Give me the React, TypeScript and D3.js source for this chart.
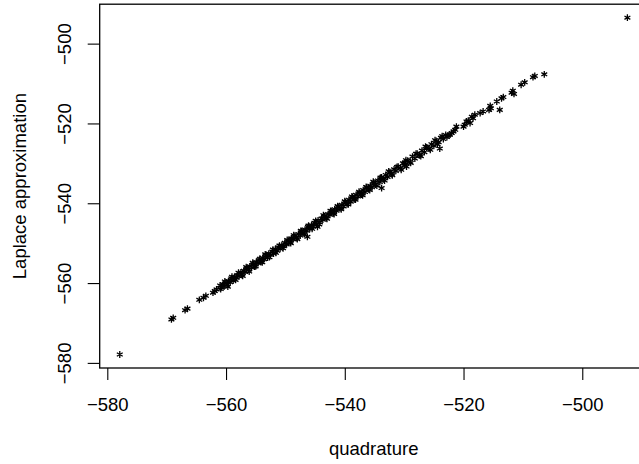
import * as d3 from 'd3';
import React, { useRef, useEffect } from 'react';

// quadrature (x) vs Laplace approximation (y)
const quadrature = [
  -577.9, -569.2, -568.9, -566.9, -566.5, -564.5, -563.8, -563.4, -562.2, -561.9, -561.6,
  -561.0, -560.8, -560.5, -560.3, -560.0, -559.8, -559.6, -559.3, -559.1, -558.8,
  -558.6, -558.3, -558.1, -557.8, -557.5, -557.3, -557.0, -556.8, -556.5, -556.2,
  -556.0, -555.7, -555.4, -555.2, -554.9, -554.6, -554.4, -554.1, -553.8, -553.6,
  -553.3, -553.0, -552.8, -552.5, -552.2, -552.0, -551.7, -551.4, -551.2, -550.9,
  -550.6, -550.3, -550.1, -549.8, -549.5, -549.2, -549.0, -548.7, -548.4, -548.1,
  -547.8, -547.5, -547.3, -547.0, -546.7, -546.4, -546.2, -545.9, -545.6, -545.3,
  -545.1, -544.8, -544.5, -544.2, -543.9, -543.7, -543.4, -543.1, -542.8, -542.5,
  -542.2, -541.9, -541.7, -541.4, -541.1, -540.8, -540.5, -540.2, -539.9, -539.6,
  -539.3, -539.0, -538.7, -538.4, -538.1, -537.8, -537.5, -537.2, -536.9, -536.6,
  -536.3, -536.0, -535.7, -535.4, -535.1, -534.8, -534.4, -534.1, -533.8, -533.5,
  -533.1, -532.8, -532.4, -532.1, -531.7, -531.4, -531.0, -530.6, -530.2, -529.9,
  -529.4, -529.0, -528.6, -528.2, -527.8, -527.4, -527.0, -526.6, -526.2, -525.8,
  -525.4, -525.0, -524.6, -524.2, -523.8, -523.4, -523.0, -522.6,
  -560.9, -560.2, -559.7, -559.0, -558.4, -557.9, -557.2, -556.6, -556.1, -555.5,
  -555.0, -554.3, -553.9, -553.4, -552.7, -552.1, -551.6, -551.0, -550.4, -549.7,
  -549.1, -548.6, -548.0, -547.4, -546.8, -546.1, -545.5, -544.9, -544.3, -543.6,
  -543.0, -542.4, -541.8, -541.2, -540.6, -540.0, -539.4, -538.8, -538.2, -537.6,
  -537.0, -536.4, -535.8, -535.2, -534.6, -534.0, -533.3, -532.6, -532.0, -531.2,
  -530.5, -529.7, -528.9, -528.0, -527.2, -526.4, -525.6, -524.8, -524.4, -523.6,
  -522.8,
  -546.3, -544.6, -533.8, -529.6, -529.9, -524.0, -513.9,
  -522.3, -522.0, -521.7, -521.4, -521.2, -520.0, -519.8, -519.5, -519.2, -518.9,
  -518.6, -518.4, -518.1, -517.2, -516.7, -515.7, -515.5, -515.4, -514.4, -513.6,
  -513.3, -511.9, -511.7, -511.5, -510.3, -509.7, -508.3, -508.0, -506.4, -492.4
];

const laplace = [
  -577.9, -569.1, -568.7, -566.8, -566.4, -564.2, -563.7, -563.2, -562.4, -562.0, -561.6,
  -560.6, -561.1, -560.3, -560.8, -559.9, -560.4, -559.5, -559.8, -558.8, -559.4,
  -558.5, -558.6, -558.0, -558.3, -557.3, -557.8, -556.9, -557.2, -556.3, -556.7,
  -555.8, -556.1, -555.3, -555.9, -554.7, -555.0, -554.2, -554.7, -553.7, -554.0,
  -553.1, -553.6, -552.6, -552.9, -552.1, -552.6, -551.5, -551.9, -551.0, -551.4,
  -550.5, -550.8, -549.9, -550.3, -549.4, -549.8, -548.8, -549.0, -548.2, -548.7,
  -547.7, -548.1, -547.0, -547.5, -546.6, -546.9, -545.9, -546.4, -545.5, -545.8,
  -544.9, -545.2, -544.3, -544.8, -543.8, -544.1, -543.2, -543.7, -542.7, -542.9,
  -542.0, -542.5, -541.5, -541.9, -540.9, -541.3, -540.4, -540.8, -539.7, -540.2,
  -539.1, -539.6, -538.5, -539.0, -537.9, -538.3, -537.4, -537.8, -536.7, -537.2,
  -536.0, -536.5, -535.6, -536.0, -534.8, -535.3, -534.3, -534.7, -533.5, -534.0,
  -532.9, -533.4, -532.2, -532.7, -531.5, -531.9, -530.8, -531.2, -530.0, -530.5,
  -529.3, -529.6, -528.3, -528.8, -527.6, -528.0, -526.8, -527.2, -526.0, -526.3,
  -525.2, -525.6, -524.4, -524.7, -523.6, -523.9, -522.9, -523.0,
  -561.5, -559.6, -560.9, -558.4, -559.2, -557.4, -558.2, -556.0, -557.1, -554.9,
  -555.8, -553.9, -554.8, -552.8, -553.5, -551.6, -552.4, -550.6, -551.3, -549.2,
  -550.0, -548.0, -549.0, -546.9, -547.7, -545.6, -546.4, -544.4, -545.3, -543.0,
  -543.9, -541.9, -542.7, -540.7, -541.5, -539.5, -540.3, -538.3, -539.1, -537.1,
  -538.0, -535.9, -536.7, -534.6, -535.6, -533.6, -534.3, -532.0, -533.0, -530.9,
  -531.6, -529.2, -529.9, -527.6, -528.2, -525.8, -526.6, -524.2, -525.2, -523.2,
  -523.4,
  -548.4, -545.9, -536.2, -530.8, -529.9, -526.3, -516.6,
  -522.8, -522.4, -522.0, -521.6, -520.8, -520.8, -520.3, -519.5, -519.3, -519.9,
  -518.3, -518.7, -517.8, -517.4, -517.0, -516.6, -515.6, -516.2, -514.5, -513.7,
  -513.4, -512.3, -511.8, -512.6, -510.3, -509.7, -508.4, -508.1, -507.7, -493.5
];

const xTicks = [-580, -560, -540, -520, -500];
const yTicks = [-580, -560, -540, -520, -500];

const W = 639;
const H = 464;
const plot = { left: 99.7, right: 647.7, top: 4.2, bottom: 368 };
const font = '"Liberation Sans", Arial, Helvetica, sans-serif';
const fs = 18.5;

function App() {
  const ref = useRef(null);

  useEffect(() => {
    const svg = d3.select(ref.current);
    svg.selectAll('*').remove();

    const x = d3.scaleLinear().domain([-581.28, -488.98]).range([plot.left, plot.right]);
    const y = d3.scaleLinear().domain([-581.28, -490.12]).range([plot.bottom, plot.top]);

    // points (pch = "*")
    const star = d3.symbol(d3.symbolAsterisk, 32)();
    svg.append('g')
      .selectAll('path')
      .data(quadrature.map((q, i) => [q, laplace[i]]))
      .join('path')
      .attr('d', star)
      .attr('transform', d => `translate(${x(d[0])},${y(d[1])})`)
      .attr('stroke', '#000')
      .attr('stroke-width', 1.3)
      .attr('fill', 'none');

    // box
    svg.append('rect')
      .attr('x', plot.left)
      .attr('y', plot.top)
      .attr('width', plot.right - plot.left)
      .attr('height', plot.bottom - plot.top)
      .attr('fill', 'none')
      .attr('stroke', '#000')
      .attr('stroke-width', 1.3);

    // x axis
    const gx = svg.append('g')
      .attr('transform', `translate(0,${plot.bottom})`)
      .call(d3.axisBottom(x).tickValues(xTicks).tickSize(12).tickSizeOuter(0).tickFormat(d3.format('')));
    gx.select('.domain').remove();
    gx.selectAll('line').attr('stroke', '#000').attr('stroke-width', 1.1);
    gx.selectAll('text')
      .attr('y', 43)
      .attr('dy', null)
      .attr('fill', '#000')
      .style('font-family', font)
      .style('font-size', fs + 'px');

    // y axis
    const gy = svg.append('g')
      .attr('transform', `translate(${plot.left},0)`)
      .call(d3.axisLeft(y).tickValues(yTicks).tickSize(12).tickSizeOuter(0).tickFormat(d3.format('')));
    gy.select('.domain').remove();
    gy.selectAll('line').attr('stroke', '#000').attr('stroke-width', 1.1);
    gy.selectAll('text')
      .attr('x', null)
      .attr('dy', null)
      .attr('transform', 'translate(-29,0) rotate(-90)')
      .attr('text-anchor', 'middle')
      .attr('fill', '#000')
      .style('font-family', font)
      .style('font-size', fs + 'px');

    // axis titles
    svg.append('text')
      .attr('x', (plot.left + plot.right) / 2)
      .attr('y', 455)
      .attr('text-anchor', 'middle')
      .style('font-family', font)
      .style('font-size', fs + 'px')
      .text('quadrature');

    svg.append('text')
      .attr('transform', `translate(26,${(plot.top + plot.bottom) / 2}) rotate(-90)`)
      .attr('text-anchor', 'middle')
      .style('font-family', font)
      .style('font-size', fs + 'px')
      .text('Laplace approximation');
  }, []);

  return (
    <svg
      ref={ref}
      width={W}
      height={H}
      style={{ position: 'absolute', left: 0, top: 0, background: '#fff' }}
    />
  );
}

export default App;
